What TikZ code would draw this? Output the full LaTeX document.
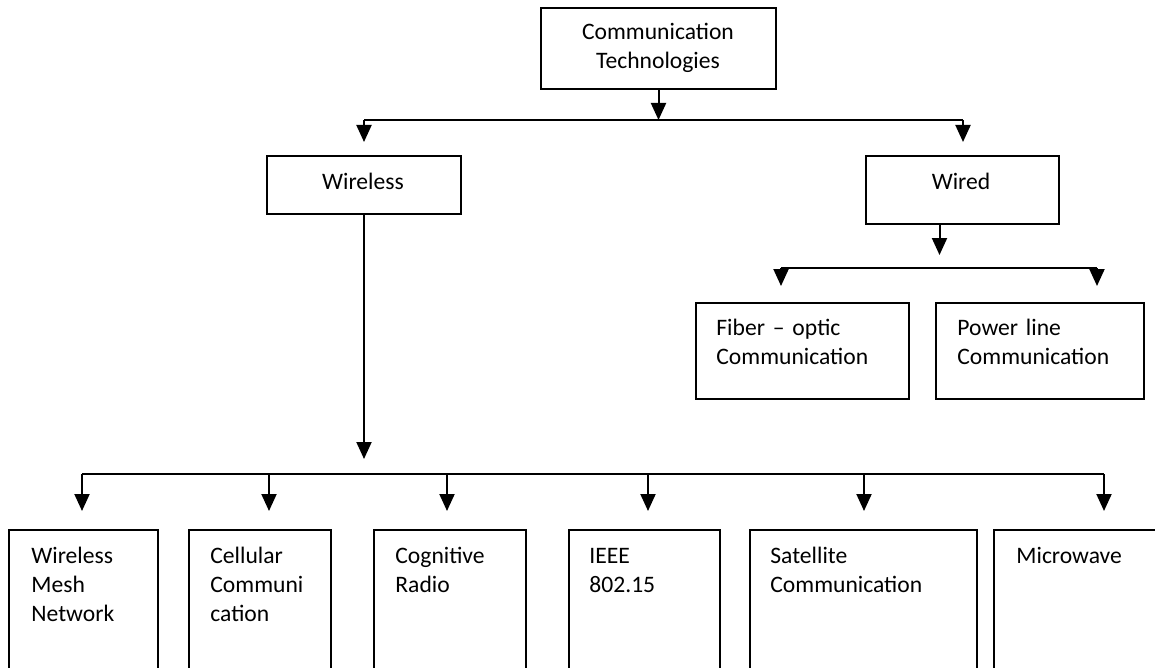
\documentclass[tikz,border=0pt]{standalone}
\usepackage{fontspec}
\setmainfont{Carlito}
\usetikzlibrary{arrows.meta,fit}

\tikzset{
  box/.style={draw, line width=1pt, inner sep=0pt},
  txt/.style={font=\fontsize{11.8}{14.5}\selectfont, inner sep=0pt, anchor=base west, align=left, text width=110pt},
  ctxt/.style={txt, anchor=base, align=center},
  arr/.style={line width=1pt, -{Triangle[width=7.5pt,length=8.5pt]}},
}

\begin{document}
\begin{tikzpicture}[x=0.5pt, y=-0.5pt]
  \useasboundingbox (0,0) rectangle (1155,668);
  \clip (0,0) rectangle (1155,668);

  % boxes
  \node[box, fit={(541,8) (776,89)}] (tech) {};
  \node[box, fit={(267,156) (461,214)}] (wireless) {};
  \node[box, fit={(866,156) (1059,224)}] (wired) {};
  \node[box, fit={(696,303) (909,399)}] (fiber) {};
  \node[box, fit={(936,303) (1144,399)}] (power) {};
  \node[box, fit={(9,530) (158,690)}] (mesh) {};
  \node[box, fit={(189,530) (331,690)}] (cell) {};
  \node[box, fit={(374,530) (526,690)}] (cog) {};
  \node[box, fit={(569,530) (720,690)}] (ieee) {};
  \node[box, fit={(750,530) (977,690)}] (sat) {};
  \node[box, fit={(994,530) (1162,690)}] (micro) {};

  % texts
  \node[ctxt] (tech-t) at (658,40) {Communication\\Technologies};
  \node[ctxt] (wireless-t) at (363,190) {Wireless};
  \node[ctxt] (wired-t) at (961,190) {Wired};
  \node[txt] (fiber-t) at (716,335) {Fiber – optic\\Communication};
  \node[txt] (power-t) at (957,335) {Power line\\Communication};
  \node[txt] (mesh-t) at (31,563) {Wireless\\Mesh\\Network};
  \node[txt] (cell-t) at (210,563) {Cellular\\Communi\\cation};
  \node[txt] (cog-t) at (395,563) {Cognitive\\Radio};
  \node[txt] (ieee-t) at (589,563) {IEEE\\802.15};
  \node[txt] (sat-t) at (770,563) {Satellite\\Communication};
  \node[txt] (micro-t) at (1016,563) {Microwave};

  % first split
  \coordinate (top-l) at (364,120);
  \coordinate (top-r) at (963,120);
  \draw[line width=1pt] (top-l) -- (top-r);
  \draw[arr] (tech.south) -- (tech.south |- top-l);
  \draw[arr, shorten >=6.5pt] (top-l) -- (top-l |- wireless.north);
  \draw[arr, shorten >=6.5pt] (top-r) -- (top-r |- wired.north);

  % wired split
  \coordinate (wd-l) at (781,268);
  \coordinate (wd-r) at (1097,268);
  \draw[line width=1pt] (wd-l) -- (wd-r);
  \draw[arr, shorten >=6.5pt] ([xshift=-11.5pt]wired.south) -- ([xshift=-11.5pt]wired.south |- wd-l);
  \draw[arr, shorten >=8pt] (wd-l) -- (wd-l |- fiber.north);
  \draw[arr, shorten >=8pt] (wd-r) -- (wd-r |- power.north);

  % wireless split
  \coordinate (bt-l) at (82,474);
  \coordinate (bt-r) at (1104,474);
  \draw[line width=1pt] (bt-l) -- (bt-r);
  \draw[arr, shorten >=7.5pt] (wireless.south) -- (wireless.south |- bt-l);
  \foreach \x/\n in {82/mesh, 269/cell, 447/cog, 648/ieee, 864/sat, 1104/micro}
    \draw[arr, shorten >=9pt] (\x,474) -- (\x,474 |- \n.north);
\end{tikzpicture}
\end{document}
